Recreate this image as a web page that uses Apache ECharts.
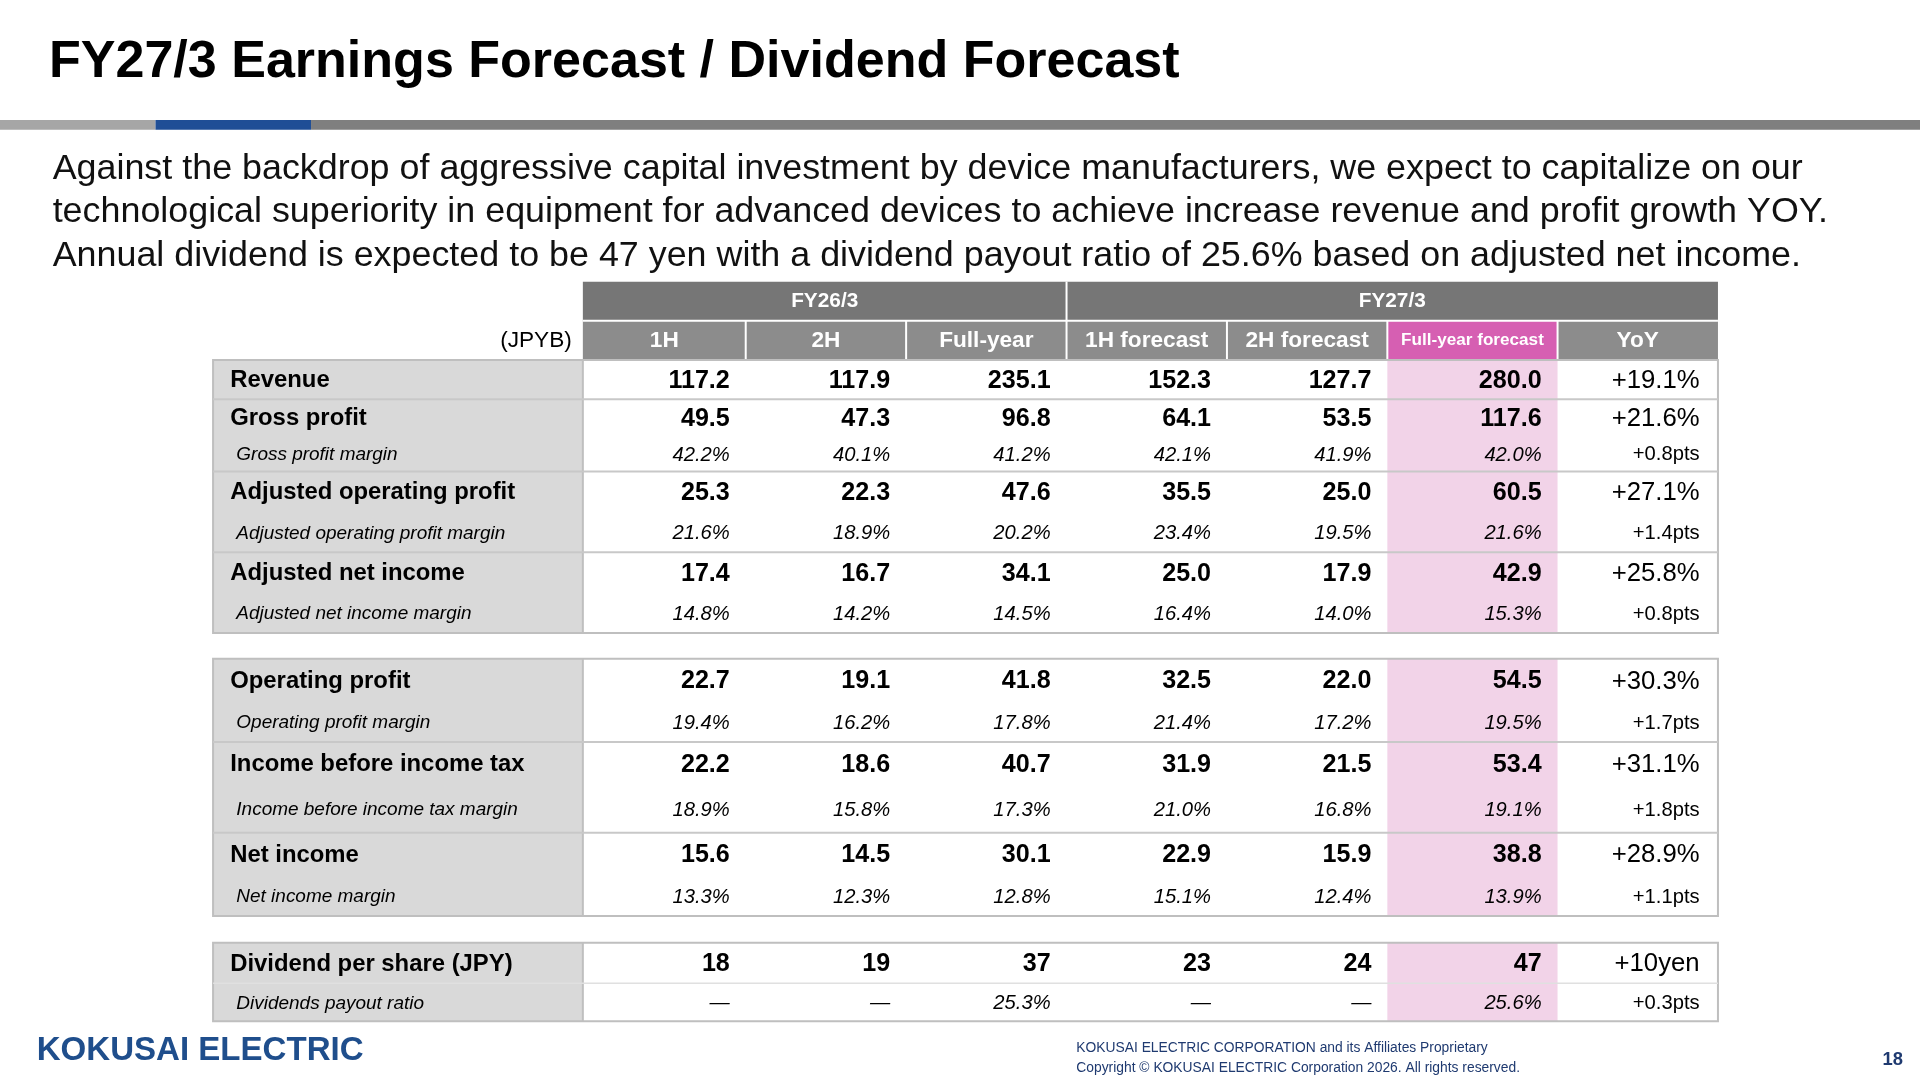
<!DOCTYPE html>
<html>
<head>
<meta charset="utf-8">
<script src="https://cdn.jsdelivr.net/npm/echarts@6/dist/echarts.min.js"></script>
<style>
html,body{margin:0;padding:0;background:#fff;}
#main{width:1920px;height:1080px;}
</style>
</head>
<body>
<div id="main"></div>
<script>
// table data
var rowLabels = ['Revenue','Gross profit','Gross profit margin','Adjusted operating profit','Adjusted operating profit margin','Adjusted net income','Adjusted net income margin','Operating profit','Operating profit margin','Income before income tax','Income before income tax margin','Net income','Net income margin','Dividend per share (JPY)','Dividends payout ratio'];
var rowBold = [1,1,0,1,0,1,0,1,0,1,0,1,0,1,0];
var colHeads = ['1H','2H','Full-year','1H forecast','2H forecast','Full-year forecast','YoY'];
var groupHeads = ['FY26/3','FY27/3'];
var fy26_1H = ['117.2','49.5','42.2%','25.3','21.6%','17.4','14.8%','22.7','19.4%','22.2','18.9%','15.6','13.3%','18','—'];
var fy26_2H = ['117.9','47.3','40.1%','22.3','18.9%','16.7','14.2%','19.1','16.2%','18.6','15.8%','14.5','12.3%','19','—'];
var fy26_FY = ['235.1','96.8','41.2%','47.6','20.2%','34.1','14.5%','41.8','17.8%','40.7','17.3%','30.1','12.8%','37','25.3%'];
var fy27_1H = ['152.3','64.1','42.1%','35.5','23.4%','25.0','16.4%','32.5','21.4%','31.9','21.0%','22.9','15.1%','23','—'];
var fy27_2H = ['127.7','53.5','41.9%','25.0','19.5%','17.9','14.0%','22.0','17.2%','21.5','16.8%','15.9','12.4%','24','—'];
var fy27_FY = ['280.0','117.6','42.0%','60.5','21.6%','42.9','15.3%','54.5','19.5%','53.4','19.1%','38.8','13.9%','47','25.6%'];
var yoy = ['+19.1%','+21.6%','+0.8pts','+27.1%','+1.4pts','+25.8%','+0.8pts','+30.3%','+1.7pts','+31.1%','+1.8pts','+28.9%','+1.1pts','+10yen','+0.3pts'];
var columns = [fy26_1H, fy26_2H, fy26_FY, fy27_1H, fy27_2H, fy27_FY, yoy];

var k = 1920 / 1568;
function S(v) { return v * k; }
var FONT = '"Liberation Sans", Arial, sans-serif';

// layout (reference pixel units)
var colX = [476, 609, 740, 871, 1002, 1133, 1272, 1403];
var labelX0 = 174;
var rowTop = [294,326,356,385,418,451,484,538,573,606,641,680,715,770,803];
var rowBot = [326,356,385,418,451,484,517,573,606,641,680,715,748,803,834];
var groups = [[0,6],[7,12],[13,14]];

var g = [];
function rect(x, y, w, h, fill) {
  g.push({type:'rect', shape:{x:S(x), y:S(y), width:S(w), height:S(h)}, style:{fill:fill}, silent:true});
}
function line(x1, y1, x2, y2, c, w) {
  g.push({type:'line', shape:{x1:S(x1), y1:S(y1), x2:S(x2), y2:S(y2)}, style:{stroke:c, lineWidth:w||1.5}, silent:true});
}
function text(t, x, y, size, opt) {
  opt = opt || {};
  g.push({type:'text', x:S(x), y:S(y), silent:true, style:{
    text:t, fill:opt.color||'#000', fontSize:S(size), fontFamily:FONT,
    fontWeight:opt.bold?'bold':'normal', fontStyle:opt.italic?'italic':'normal',
    align:opt.align||'left', verticalAlign:'middle'}});
}

// title + rule
text('FY27/3 Earnings Forecast / Dividend Forecast', 40, 51, 42.5, {bold:true});
rect(0, 98, 127, 8, '#a6a6a6');
rect(127, 98, 127, 8, '#1f4e96');
rect(254, 98, 1314, 8, '#7f7f7f');

var para = ['Against the backdrop of aggressive capital investment by device manufacturers, we expect to capitalize on our',
  'technological superiority in equipment for advanced devices to achieve increase revenue and profit growth YOY.',
  'Annual dividend is expected to be 47 yen with a dividend payout ratio of 25.6% based on adjusted net income.'];
para.forEach(function (p, i) { text(p, 43, 138 + i * 35.5, 29.3, {color:'#111'}); });

// headers
rect(colX[0], 230, colX[3] - colX[0], 32, '#767676');
rect(colX[3], 230, colX[7] - colX[3], 32, '#767676');
text(groupHeads[0], (colX[0] + colX[3]) / 2, 246, 17, {bold:true, color:'#fff', align:'center'});
text(groupHeads[1], (colX[3] + colX[7]) / 2, 246, 17, {bold:true, color:'#fff', align:'center'});
line(colX[3], 230, colX[3], 294, '#fff', 2);
colHeads.forEach(function (h, i) {
  var pink = i === 5;
  rect(colX[i], 262, colX[i + 1] - colX[i], 32, pink ? '#d65fb2' : '#8c8c8c');
  if (i > 0) line(colX[i], 262, colX[i], 294, '#fff', 2);
  text(h, (colX[i] + colX[i + 1]) / 2, 278, pink ? 14 : 18.5, {bold:true, color:'#fff', align:'center'});
});
line(colX[0], 262, colX[7], 262, '#fff', 2);
text('(JPYB)', 467, 278, 18.5, {align:'right'});

// body
groups.forEach(function (gr) {
  var y0 = rowTop[gr[0]], y1 = rowBot[gr[1]];
  rect(labelX0, y0, colX[0] - labelX0, y1 - y0, '#d9d9d9');
  rect(colX[5], y0, colX[6] - colX[5], y1 - y0, '#f2d3e8');
  g.push({type:'rect', shape:{x:S(labelX0), y:S(y0), width:S(colX[7] - labelX0), height:S(y1 - y0)},
    style:{fill:'none', stroke:'#bfbfbf', lineWidth:2}, silent:true});
  line(colX[0], y0, colX[0], y1, '#bfbfbf', 2);
});
rowLabels.forEach(function (lab, r) {
  var cy = (rowTop[r] + rowBot[r]) / 2 + 1;
  var b = rowBold[r];
  if (b && r > 0 && rowTop[r] === rowBot[r - 1]) line(labelX0, rowTop[r], colX[7], rowTop[r], '#c8c8c8', 2);
  if (r === 14) line(labelX0, rowTop[r], colX[7], rowTop[r], '#e0e0e0', 1.5);
  text(lab, b ? 188 : 193, cy, b ? 19.5 : 15.5, {bold:!!b, italic:!b});
  columns.forEach(function (col, c) {
    var isYoy = c === 6;
    var x = isYoy ? 1388 : colX[c + 1] - 13;
    var sz = isYoy ? (b ? 21 : 16.5) : (b ? 20.5 : 16.5);
    text(col[r], x, cy, sz, {bold:!!b && !isYoy, italic:!b && !isYoy, align:'right'});
  });
});

// footer
text('KOKUSAI ELECTRIC', 30, 858, 27, {bold:true, color:'#1f4e8c'});
text('KOKUSAI ELECTRIC CORPORATION and its Affiliates Proprietary', 879, 856, 11.3, {color:'#1f3a70'});
text('Copyright © KOKUSAI ELECTRIC Corporation 2026. All rights reserved.', 879, 872, 11.3, {color:'#1f3a70'});
text('18', 1554, 866, 15, {bold:true, color:'#1f3a70', align:'right'});

var chart = echarts.init(document.getElementById('main'));
chart.setOption({animation:false, graphic:{elements:g}});
</script>
</body>
</html>
